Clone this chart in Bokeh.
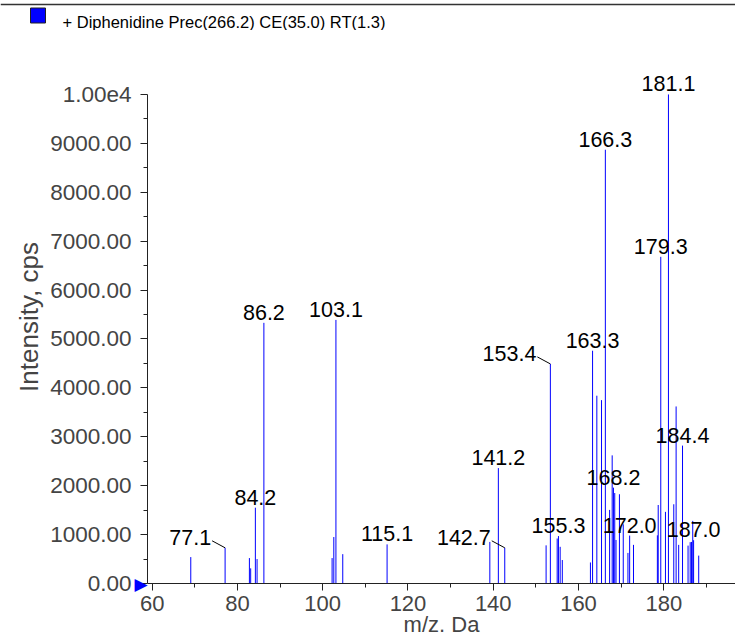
from bokeh.plotting import figure
from bokeh.layouts import column
from bokeh.models import (Range1d, FixedTicker, CustomJSTickFormatter, LinearAxis,
                          ColumnDataSource, Span)
from bokeh.core.properties import value
from bokeh.embed import file_html
from bokeh.resources import INLINE

# ---- data -------------------------------------------------------------
mz = [69.05, 77.1, 82.8, 83.1, 84.2, 84.6, 86.2, 102.2, 102.6, 103.1, 104.7,
      115.1, 139.2, 141.2, 142.7, 152.4, 153.4, 155.0, 155.3, 155.7, 156.2,
      162.8, 163.3, 164.3, 165.4, 166.3, 167.3, 167.9, 168.2, 168.5, 168.8,
      169.6, 170.5, 171.6, 172.0, 172.9, 178.5, 178.7, 179.3, 180.4, 181.1,
      182.35, 182.9, 183.5, 184.4, 185.7, 186.2, 186.5, 186.8, 187.0, 188.2]
intensity = [540, 730, 520, 310, 1550, 500, 5330, 520, 950, 5390, 600,
             800, 850, 2360, 730, 780, 4490, 920, 970, 750, 480,
             430, 4760, 3840, 3750, 8870, 1505, 2620, 1960, 1850, 890,
             1825, 1210, 625, 980, 790, 985, 1605, 6680, 1465, 10000,
             1620, 3620, 790, 2820, 775, 845, 850, 1280, 885, 570]

label_mz = [86.2, 103.1, 84.2, 115.1, 141.2, 155.3, 163.3, 166.3, 168.2,
            172.0, 179.3, 181.1, 184.4, 187.0]
offset_label_mz = [77.1, 142.7, 153.4]

x_ticks = [60, 80, 100, 120, 140, 160, 180]
x_minor = [70, 90, 110, 130, 150, 170, 190]
y_ticks = [0, 1000, 2000, 3000, 4000, 5000, 6000, 7000, 8000, 9000, 10000]
y_minor = [500, 1500, 2500, 3500, 4500, 5500, 6500, 7500, 8500, 9500]

title_text = "+ Diphenidine Prec(266.2) CE(35.0) RT(1.3)"
x_title = "m/z. Da"
y_title = "Intensity, cps"

# ---- layout geometry (page pixels) -------------------------------------
W, H = 735, 639
HDR_H = 30
FONT = "Liberation Sans"
FRAME_L, FRAME_R, FRAME_T, FRAME_B = 147, 735, 50, 583.5
PX_X = 4.263          # px per m/z unit
PX_Y = 0.04895        # px per intensity unit
X_AT_60 = 151.7       # page x of m/z 60

X0 = 60 - (X_AT_60 - FRAME_L) / PX_X
X1 = 60 + (FRAME_R - X_AT_60) / PX_X
Y0 = 0
Y1 = (FRAME_B - FRAME_T) / PX_Y


def no_frame_align(fig):
    if "frame_align" in fig.properties():
        fig.frame_align = False


# ---- header strip: sample swatch + description ------------------------
# (header uses a pixel coordinate system: x to the right, y downwards)
hdr = figure(width=W, height=HDR_H, output_backend="svg", toolbar_location=None,
             x_range=Range1d(0, W), y_range=Range1d(HDR_H, 0),
             x_axis_location=None, y_axis_location=None)
hdr.min_border = 0
hdr.min_border_left = 0
hdr.min_border_right = 0
hdr.min_border_top = 0
hdr.min_border_bottom = 0
hdr.outline_line_color = None
hdr.xgrid.visible = False
hdr.ygrid.visible = False
no_frame_align(hdr)
hdr.rect(x=[37.5], y=[15], width=15, height=15, fill_color="#0000ff",
         line_color="#222222", line_width=1)
hdr.text(x=[62], y=[21.5], text=[title_text], text_baseline="middle",
         text_align="left", text_font=value(FONT), text_font_size="16.5px",
         text_color="black")
hdr.add_layout(Span(location=4, dimension="width", line_color="#333333",
                    line_width=1.5))

# ---- main plot ---------------------------------------------------------
p = figure(width=W, height=H - HDR_H, output_backend="svg",
           toolbar_location=None, x_range=Range1d(X0, X1),
           y_range=Range1d(Y0, Y1), y_axis_location=None)
no_frame_align(p)
p.min_border_left = FRAME_L
p.min_border_right = 0
p.min_border_top = FRAME_T - HDR_H
p.min_border_bottom = int(round(H - FRAME_B))
p.outline_line_color = None
p.xgrid.visible = False
p.ygrid.visible = False
p.background_fill_color = "white"

axis_col = "#222222"
xax = p.xaxis[0]
xax.ticker = FixedTicker(ticks=x_ticks, minor_ticks=x_minor)
xax.axis_line_color = axis_col
xax.major_tick_line_color = axis_col
xax.minor_tick_line_color = axis_col
xax.major_tick_out = 7
xax.major_tick_in = 0
xax.minor_tick_out = 4
xax.minor_tick_in = 0
xax.major_label_text_font = FONT
xax.major_label_text_font_size = "22px"
xax.major_label_standoff = 5
xax.axis_label = x_title
xax.axis_label_text_font = FONT
xax.axis_label_text_font_size = "22px"
xax.axis_label_text_font_style = "normal"
xax.axis_label_standoff = -2

# inner left axis: the y rule, its ticks and the blue zero marker
marks = {t: "" for t in y_ticks}
marks[0] = "\u25B6"
rule_ax = LinearAxis(ticker=FixedTicker(ticks=y_ticks, minor_ticks=y_minor),
                     bounds=(0, 10000), major_label_overrides=marks,
                     axis_line_color=axis_col, major_tick_line_color=axis_col,
                     minor_tick_line_color=axis_col, major_tick_out=7,
                     major_tick_in=0, minor_tick_out=4, minor_tick_in=0,
                     major_label_standoff=-7, major_label_text_color="#0000ff",
                     major_label_text_font="DejaVu Sans",
                     major_label_text_font_size="17px")
p.add_layout(rule_ax, "left")

# outer left axis: tick labels and axis title
lab_ax = LinearAxis(ticker=FixedTicker(ticks=y_ticks), bounds=(0, 10000),
                    formatter=CustomJSTickFormatter(
                        code="return tick >= 10000 ? (tick/1e4).toFixed(2) + 'e4' : tick.toFixed(2);"),
                    axis_line_color=None, major_tick_line_color=None,
                    minor_tick_line_color=None, major_tick_out=0, major_tick_in=0,
                    minor_tick_out=0, minor_tick_in=0, major_label_standoff=0,
                    major_label_text_font=FONT, major_label_text_font_size="22.5px",
                    axis_label=y_title, axis_label_text_font=FONT,
                    axis_label_text_font_size="26px",
                    axis_label_text_font_style="normal", axis_label_standoff=3)
p.add_layout(lab_ax, "left")

# bars
src = ColumnDataSource(dict(x=mz, y0=[0] * len(mz), y1=intensity))
p.segment(x0="x", y0="y0", x1="x", y1="y1", source=src,
          line_color="#0000ff", line_width=1)

# peak labels
inten_of = dict(zip(mz, intensity))
lab = ColumnDataSource(dict(x=label_mz, y=[inten_of[m] for m in label_mz],
                            t=["%.1f" % m for m in label_mz]))
p.text(x="x", y="y", text="t", source=lab, text_align="center",
       text_baseline="bottom", y_offset=-3, text_font=value(FONT),
       text_font_size="21.5px", text_color="black")

# offset labels with leader lines
olab = ColumnDataSource(dict(x=offset_label_mz,
                             y=[inten_of[m] for m in offset_label_mz],
                             t=["%.1f" % m for m in offset_label_mz]))
p.text(x="x", y="y", text="t", source=olab, text_align="right",
       text_baseline="bottom", x_offset=-14, y_offset=-3, text_font=value(FONT),
       text_font_size="21.5px", text_color="black")
lead = ColumnDataSource(dict(
    x0=[m - 13 / PX_X for m in offset_label_mz],
    y0=[inten_of[m] + 7 / PX_Y for m in offset_label_mz],
    x1=offset_label_mz,
    y1=[inten_of[m] for m in offset_label_mz]))
p.segment(x0="x0", y0="y0", x1="x1", y1="y1", source=lead,
          line_color="black", line_width=1)

layout = column(hdr, p, spacing=0)
open("out.html", "w").write(file_html(layout, INLINE))
